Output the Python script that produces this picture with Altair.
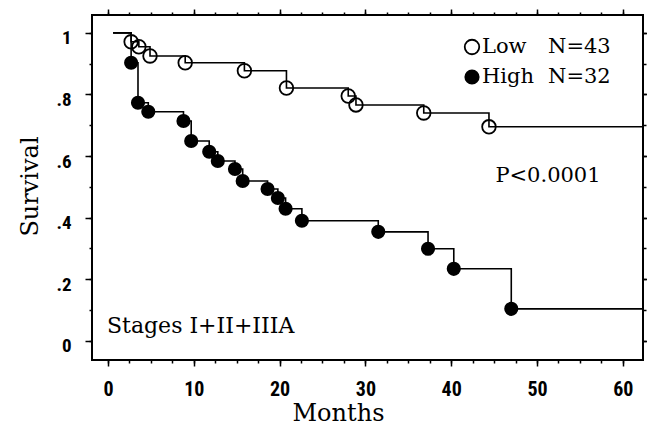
import altair as alt
import pandas as pd

# ---- data ----
low_t = [2.7, 3.6, 4.9, 9.0, 15.9, 20.8, 28.0, 28.9, 36.8, 44.4]
low_s = [0.971, 0.955, 0.925, 0.903, 0.877, 0.821, 0.795, 0.766, 0.740, 0.695]
high_t = [2.7, 3.5, 4.7, 8.8, 9.7, 11.8, 12.8, 14.8, 15.7, 18.6, 19.8, 20.7, 22.6, 31.5, 37.3, 40.3, 47.0]
high_s = [0.903, 0.773, 0.744, 0.714, 0.649, 0.614, 0.584, 0.558, 0.519, 0.493, 0.464, 0.429, 0.390, 0.354, 0.299, 0.234, 0.104]
start_t = 0.6
end_t = 63.0

x_major = [0, 10, 20, 30, 40, 50, 60]
x_minor = [i * 2.5 for i in range(25)]
y_major = [0, 0.2, 0.4, 0.6, 0.8, 1.0]
y_minor = [round(i * 0.1, 1) for i in range(11)]

legend_low = ["Low", "N=43"]
legend_high = ["High", "N=32"]
p_text = "P<0.0001"
stage_text = "Stages I+II+IIIA"

# ---- tables ----
rows = []
for g, ts, ss in (("Low", low_t, low_s), ("High", high_t, high_s)):
    rows.append({"group": g, "t": start_t, "s": 1.0})
    for t, s in zip(ts, ss):
        rows.append({"group": g, "t": t, "s": s})
    rows.append({"group": g, "t": end_t, "s": ss[-1]})
lines_df = pd.DataFrame(rows)
low_df = pd.DataFrame({"t": low_t, "s": low_s})
high_df = pd.DataFrame({"t": high_t, "s": high_s})
one = pd.DataFrame({"a": [0]})

SERIF = "DejaVu Serif"
TICKF = "Roboto Condensed, Liberation Sans Narrow, DejaVu Sans Condensed, Roboto, sans-serif"

xs = alt.Scale(domain=[-1.86, 62.35], nice=False, zero=False)
ys = alt.Scale(domain=[-0.062, 1.058], nice=False, zero=False)

common = dict(domain=False, grid=False, tickColor="black", tickWidth=1.5)

ax_bottom = alt.Axis(orient="bottom", values=x_major, tickSize=6, labelFont=TICKF,
                     labelFontSize=20, labelFontWeight="bold", labelColor="black",
                     labelPadding=13, labelFlush=False, labelOverlap=False,
                     title="Months", titleFont=SERIF, titleFontSize=24,
                     titleFontWeight="normal", titleColor="black", titleX=246,
                     titleY=53, titleBaseline="middle", titleAlign="center", **common)
ax_left = alt.Axis(orient="left", values=y_major, tickSize=7, labelFont=TICKF,
                   labelFontSize=19, labelFontWeight="bold", labelColor="black",
                   labelPadding=14, labelOffset=5, labelFlush=False, labelOverlap=False,
                   labelExpr="datum.value == 0 ? '0' : datum.value == 1 ? '1' : '.' + round(datum.value * 10)",
                   title="Survival", titleFont=SERIF, titleFontSize=24,
                   titleFontWeight="normal", titleColor="black", titleX=-62,
                   titleY=171, titleAngle=270, titleBaseline="middle",
                   titleAlign="center", **common)
ax_bottom_minor = alt.Axis(orient="bottom", values=x_minor, tickSize=3, labels=False,
                           title="", **common)
ax_left_minor = alt.Axis(orient="left", values=y_minor, tickSize=3, labels=False,
                         title="", **common)
ax_top = alt.Axis(orient="top", values=x_major, tickSize=6, labels=False, title="", **common)
ax_right = alt.Axis(orient="right", values=y_major, tickSize=6, labels=False, title="", **common)
ax_top_minor = alt.Axis(orient="top", values=x_minor, tickSize=3, labels=False, title="", **common)
ax_right_minor = alt.Axis(orient="right", values=y_minor, tickSize=3, labels=False, title="", **common)

lines = alt.Chart(lines_df).mark_line(interpolate="step-after", color="black",
                                      strokeWidth=1.6, clip=True).encode(
    x=alt.X("t:Q", scale=xs, axis=ax_bottom),
    y=alt.Y("s:Q", scale=ys, axis=ax_left),
    detail="group:N",
)

low_pts = alt.Chart(low_df).mark_point(shape="circle", filled=False, color="black",
                                       strokeWidth=1.8, size=185, opacity=1).encode(
    x=alt.X("t:Q", scale=xs, axis=ax_bottom_minor),
    y=alt.Y("s:Q", scale=ys, axis=ax_left_minor),
)

high_pts = alt.Chart(high_df).mark_point(shape="circle", filled=True, color="black",
                                         size=200, opacity=1).encode(
    x=alt.X("t:Q", scale=xs, axis=ax_top),
    y=alt.Y("s:Q", scale=ys, axis=ax_right),
)

ghost = alt.Chart(lines_df).mark_point(opacity=0).encode(
    x=alt.X("t:Q", scale=xs, axis=ax_top_minor),
    y=alt.Y("s:Q", scale=ys, axis=ax_right_minor),
)

def txt(text, x, y, size=21, align="left", **kw):
    return alt.Chart(one).mark_text(text=text, font=SERIF, fontSize=size, color="black",
                                    align=align, baseline="middle", **kw).encode(
        x=alt.value(x), y=alt.value(y))

leg_sym_low = alt.Chart(one).mark_point(shape="circle", filled=False, color="black",
                                        strokeWidth=1.8, size=210, opacity=1).encode(
    x=alt.value(380), y=alt.value(32))
leg_sym_high = alt.Chart(one).mark_point(shape="circle", filled=True, color="black",
                                         size=230, opacity=1).encode(
    x=alt.value(380), y=alt.value(62))

annots = [
    txt(legend_low[0], 390, 32),
    txt(legend_low[1], 456, 32),
    txt(legend_high[0], 390, 62),
    txt(legend_high[1], 456, 62),
    txt(p_text, 456, 161, align="center"),
    txt(stage_text, 15, 311, size=22),
]

chart = alt.layer(lines, low_pts, high_pts, ghost, leg_sym_low, leg_sym_high, *annots).resolve_axis(
    x="independent", y="independent"
).properties(
    width=551, height=345,
    autosize=alt.AutoSizeParams(type="none"),
    padding={"left": 92, "top": 15, "right": 4, "bottom": 65},
    background="white",
).configure_view(stroke="black", strokeWidth=2)

chart.save("out.html", embed_options={"renderer": "svg", "actions": False})
